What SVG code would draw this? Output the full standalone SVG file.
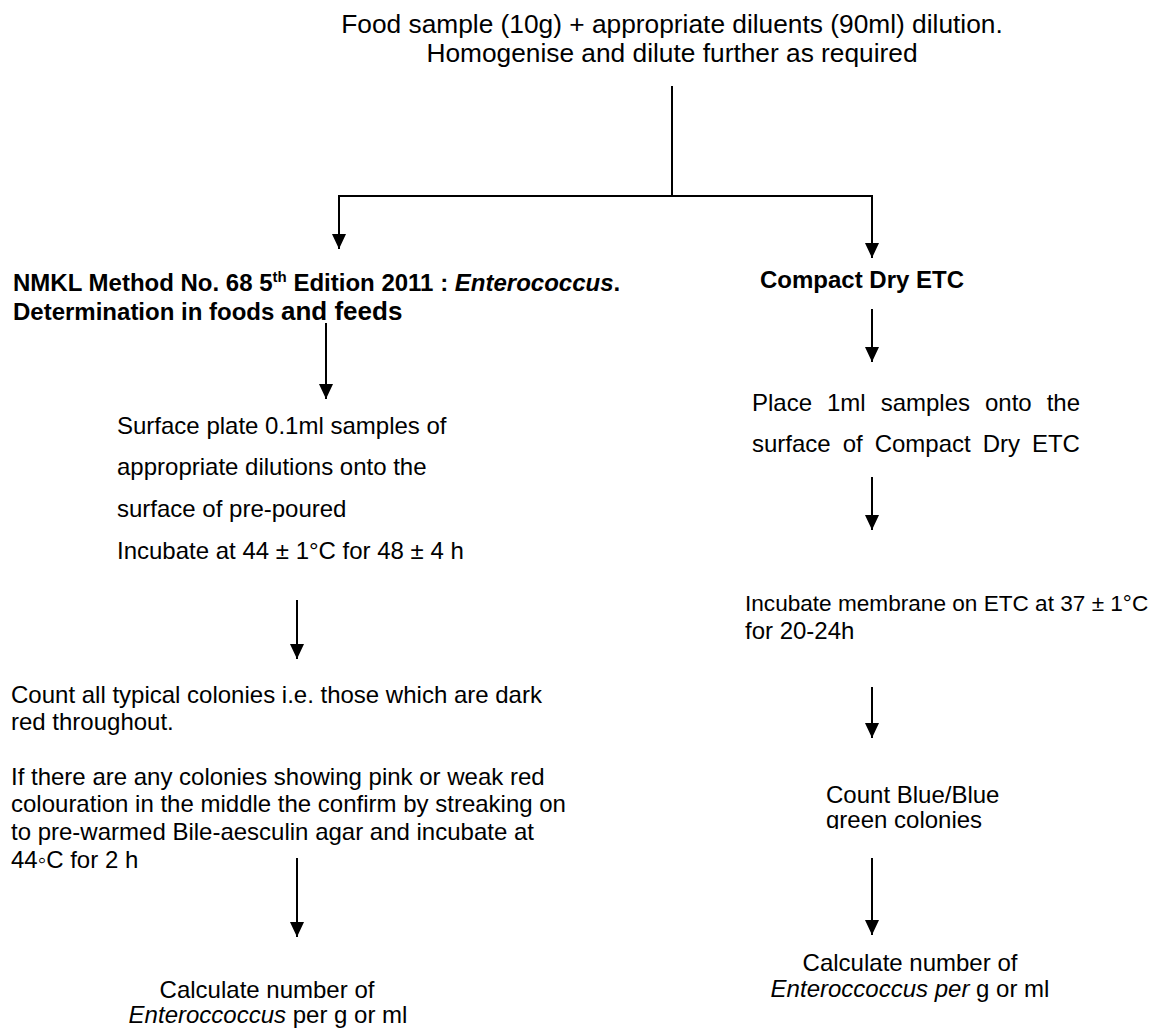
<svg xmlns="http://www.w3.org/2000/svg" width="1162" height="1032" viewBox="0 0 1162 1032">
<style>
text{font-family:"Liberation Sans",Arial,sans-serif;font-size:24px;fill:#000}
.t{font-size:26.3px}
.s{font-size:22.6px}
.b{font-weight:bold}
.i{font-style:italic}
.c{text-anchor:middle}
.ln{stroke:#000;stroke-width:2;fill:none}
.ar{stroke:#000;stroke-width:2;fill:none;marker-end:url(#ah)}
</style>
<defs>
<marker id="ah" viewBox="0 0 15 14" refX="15" refY="7" markerWidth="15" markerHeight="14" markerUnits="userSpaceOnUse" orient="auto">
<path d="M0,0 L15,7 L0,14 Z" fill="#000"/>
</marker>
<clipPath id="clipGreen"><rect x="800" y="780" width="300" height="49"/></clipPath>
</defs>
<rect width="1162" height="1032" fill="#fff"/>

<g id="start">
<text class="t c" x="672" y="33">Food sample (10g) + appropriate diluents (90ml) dilution.</text>
<text class="t c" x="672" y="62">Homogenise and dilute further as required</text>
</g>

<g id="nmkl">
<text class="b" x="13" y="291">NMKL Method No. 68 5<tspan font-size="15" dy="-9">th</tspan><tspan dy="9"> Edition 2011 : </tspan><tspan class="i">Enterococcus</tspan>.</text>
<text class="b" x="13" y="320">Determination in foods <tspan font-size="26">and feeds</tspan></text>
</g>

<g id="compact">
<text class="b" x="760" y="288">Compact Dry ETC</text>
</g>

<g id="surface-plate">
<text x="117" y="434">Surface plate 0.1ml samples of</text>
<text x="117" y="475">appropriate dilutions onto the</text>
<text x="117" y="517">surface of pre-poured</text>
<text x="117" y="559">Incubate at 44 ± 1°C for 48 ± 4 h</text>
</g>

<g id="place-sample">
<text x="752" y="411" word-spacing="8.3">Place 1ml samples onto the</text>
<text x="752" y="452" word-spacing="5.3">surface of Compact Dry ETC</text>
</g>

<g id="incubate-etc">
<text class="s" x="745" y="611">Incubate membrane on ETC at 37 ± 1°C</text>
<text x="745" y="639">for 20-24h</text>
</g>

<g id="count-left">
<text x="11" y="703">Count all typical colonies i.e. those which are dark</text>
<text x="11" y="730">red throughout.</text>
<text x="11" y="785">If there are any colonies showing pink or weak red</text>
<text x="11" y="812">colouration in the middle the confirm by streaking on</text>
<text x="11" y="840">to pre-warmed  Bile-aesculin agar and incubate at</text>
<text x="11" y="868">44◦C for 2 h</text>
</g>

<g id="count-right">
<text x="826" y="803">Count Blue/Blue</text>
<text x="826" y="828" clip-path="url(#clipGreen)">green colonies</text>
</g>

<g id="calc-left">
<text class="c" x="267" y="998">Calculate number of</text>
<text class="c" x="268" y="1023"><tspan class="i">Enteroccoccus</tspan> per g or ml</text>
</g>

<g id="calc-right">
<text class="c" x="910" y="971">Calculate number of</text>
<text class="c" x="910" y="997"><tspan class="i">Enteroccoccus per</tspan> g or ml</text>
</g>

<g id="connectors">
<line class="ln" x1="672" y1="86" x2="672" y2="197"/>
<line class="ln" x1="338" y1="196" x2="873" y2="196"/>
<line class="ar" x1="339" y1="195" x2="339" y2="249"/>
<line class="ar" x1="872" y1="195" x2="872" y2="258"/>
<line class="ar" x1="326" y1="323" x2="326" y2="399"/>
<line class="ar" x1="297" y1="600" x2="297" y2="659"/>
<line class="ar" x1="297" y1="858" x2="297" y2="937"/>
<line class="ar" x1="872" y1="309" x2="872" y2="362"/>
<line class="ar" x1="872" y1="477" x2="872" y2="530"/>
<line class="ar" x1="872" y1="687" x2="872" y2="738"/>
<line class="ar" x1="872" y1="858" x2="872" y2="935"/>
</g>
</svg>
